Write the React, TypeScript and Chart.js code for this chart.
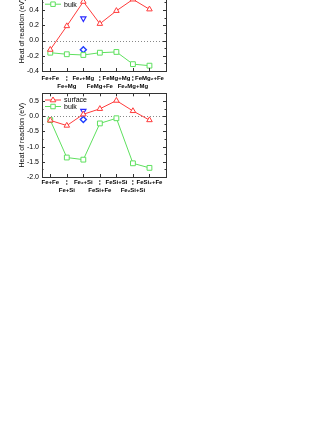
import React, { useEffect, useRef } from 'react';
import { Chart, registerables } from 'chart.js';

Chart.register(...registerables);

const positions = [1, 2, 3, 4, 5, 6, 7];

const topCategories = ['Fe+Fe', 'Fe+Mg', 'Fe₂+Mg', 'FeMg+Fe', 'FeMg+Mg', 'Fe₂Mg+Mg', 'FeMg₂+Fe'];
const topSurface = [-0.12, 0.19, 0.51, 0.22, 0.39, 0.54, 0.41];
const topBulk = [-0.16, -0.18, -0.19, -0.16, -0.15, -0.31, -0.33];
const topBlueTriangle = [0.29];
const topBlueDiamond = [-0.12];
const topYTicks = [-0.4, -0.2, 0, 0.2, 0.4, 0.6];

const botCategories = ['Fe+Fe', 'Fe+Si', 'Fe₂+Si', 'FeSi+Fe', 'FeSi+Si', 'Fe₂Si+Si', 'FeSi₂+Fe'];
const botSurface = [-0.14, -0.31, 0.06, 0.24, 0.51, 0.17, -0.13];
const botBulk = [-0.13, -1.36, -1.43, -0.24, -0.07, -1.55, -1.70];
const botBlueTriangle = [0.17];
const botBlueDiamond = [-0.11];
const botYTicks = [-2.0, -1.5, -1.0, -0.5, 0, 0.5];

const blueAt = 3;
const FONT = 'Liberation Sans, Arial, sans-serif';
const RED = '#ff3b3b';
const GREEN = '#5ee05e';
const BLUE = '#2a2aff';

function drawMarker(ctx: CanvasRenderingContext2D, style: string, x: number, y: number, r: number) {
  ctx.beginPath();
  if (style === 'triangle') {
    ctx.moveTo(x, y - r);
    ctx.lineTo(x + r * 0.95, y + r * 0.6);
    ctx.lineTo(x - r * 0.95, y + r * 0.6);
    ctx.closePath();
  } else {
    const s = r * 0.75;
    ctx.rect(x - s, y - s, 2 * s, 2 * s);
  }
  ctx.fillStyle = '#fff';
  ctx.fill();
  ctx.stroke();
}

const legendPlugin = {
  id: 'insideLegend',
  afterDatasetsDraw(chart: any) {
    const { ctx, chartArea } = chart;
    let row = 0;
    ctx.save();
    chart.data.datasets.forEach((ds: any) => {
      if (!ds.label) return;
      const y = chartArea.top + 6.7 + row * 6.5;
      const x0 = chartArea.left + 3;
      ctx.strokeStyle = ds.borderColor;
      ctx.lineWidth = 1;
      ctx.beginPath();
      ctx.moveTo(x0, y);
      ctx.lineTo(x0 + 16, y);
      ctx.stroke();
      drawMarker(ctx, ds.pointStyle, x0 + 8, y, 3);
      ctx.fillStyle = '#000';
      ctx.font = `7px ${FONT}`;
      ctx.textBaseline = 'middle';
      ctx.textAlign = 'left';
      ctx.fillText(ds.label, x0 + 19, y + 0.5);
      row++;
    });
    ctx.restore();
  },
};

const framePlugin = {
  id: 'frame',
  beforeDatasetsDraw(chart: any) {
    const { ctx, chartArea, scales } = chart;
    const y0 = scales.y.getPixelForValue(0);
    ctx.save();
    ctx.strokeStyle = '#888';
    ctx.lineWidth = 1;
    ctx.setLineDash([1, 2]);
    ctx.beginPath();
    ctx.moveTo(chartArea.left, Math.round(y0) + 0.5);
    ctx.lineTo(chartArea.right, Math.round(y0) + 0.5);
    ctx.stroke();
    ctx.restore();
  },
  afterDraw(chart: any) {
    const { ctx, chartArea, scales } = chart;
    const { left, right, top, bottom } = chartArea;
    ctx.save();
    ctx.strokeStyle = '#333';
    ctx.lineWidth = 1;
    ctx.strokeRect(Math.round(left) + 0.5, Math.round(top) + 0.5, Math.round(right - left), Math.round(bottom - top));
    ctx.beginPath();
    const yt = scales.y.ticks.map((t: any) => t.value);
    const step = yt[1] - yt[0];
    yt.forEach((v: number, i: number) => {
      const py = Math.round(scales.y.getPixelForValue(v)) + 0.5;
      ctx.moveTo(left, py); ctx.lineTo(left + 3, py);
      ctx.moveTo(right, py); ctx.lineTo(right - 3, py);
      if (i < yt.length - 1) {
        const pm = Math.round(scales.y.getPixelForValue(v + step / 2)) + 0.5;
        if (pm > top) {
          ctx.moveTo(left, pm); ctx.lineTo(left + 1.5, pm);
          ctx.moveTo(right, pm); ctx.lineTo(right - 1.5, pm);
        }
      }
    });
    scales.x.ticks.forEach((t: any) => {
      const px = Math.round(scales.x.getPixelForValue(t.value)) + 0.5;
      ctx.moveTo(px, bottom); ctx.lineTo(px, bottom - 3);
      ctx.moveTo(px, top); ctx.lineTo(px, top + 3);
    });
    ctx.stroke();
    ctx.restore();
  },
};

function pts(vals: number[], xs: number[]) {
  return vals.map((v, i) => ({ x: xs[i], y: v }));
}

function makeConfig(cats: string[], surface: number[], bulk: number[], blueTri: number[], blueDia: number[], yTicks: number[], yMin: number, yMax: number, padTop: number, xPad: number): any {
  return {
    type: 'line',
    data: {
      datasets: [
        {
          label: 'surface', data: pts(surface, positions), borderColor: RED, backgroundColor: '#fff',
          pointStyle: 'triangle', pointRadius: 3.2, pointBorderWidth: 1, borderWidth: 1,
          pointBorderColor: RED, pointBackgroundColor: '#fff',
        },
        {
          label: 'bulk', data: pts(bulk, positions), borderColor: GREEN, backgroundColor: '#fff',
          pointStyle: 'rect', pointRadius: 3.4, pointBorderWidth: 1, borderWidth: 1,
          pointBorderColor: GREEN, pointBackgroundColor: '#fff',
        },
        {
          label: '', data: pts(blueTri, [blueAt]), borderColor: BLUE, showLine: false,
          pointStyle: 'triangle', pointRotation: 180, pointRadius: 3, pointBorderWidth: 1.2,
          pointBorderColor: BLUE, pointBackgroundColor: '#fff',
        },
        {
          label: '', data: pts(blueDia, [blueAt]), borderColor: BLUE, showLine: false,
          pointStyle: 'rectRot', pointRadius: 3, pointBorderWidth: 1.4,
          pointBorderColor: '#1f3dff', pointBackgroundColor: '#fff',
        },
      ],
    },
    options: {
      responsive: false,
      animation: false,
      devicePixelRatio: 1,
      layout: { padding: { left: 18, right: 9, top: padTop, bottom: 0 } },
      plugins: { legend: { display: false }, tooltip: { enabled: false } },
      scales: {
        x: {
          type: 'linear', min: 0.5, max: 8,
          afterBuildTicks: (s: any) => { s.ticks = positions.map((v) => ({ value: v })); },
          afterFit: (s: any) => { s.height = 25; },
          grid: { display: false, drawTicks: false },
          border: { display: false },
          ticks: {
            autoSkip: false, maxRotation: 0, minRotation: 0, padding: xPad, color: '#000',
            font: { size: 6, family: FONT, weight: 'bold', lineHeight: 1.4 },
            callback: (v: number, i: number) => {
              const lbl = cats[i] ?? '';
              return i % 2 === 1 ? ['¦', lbl] : lbl;
            },
          },
        },
        y: {
          min: yMin, max: yMax,
          afterBuildTicks: (s: any) => { s.ticks = yTicks.map((v) => ({ value: v })); },
          afterFit: (s: any) => { s.width = 24; },
          grid: { display: false, drawTicks: false },
          border: { display: false },
          ticks: {
            padding: 3, color: '#000', font: { size: 7, family: FONT },
            callback: (v: number) => Number(v).toFixed(1),
          },
          title: { display: true, text: 'Heat of reaction (eV)', color: '#000', padding: 0, font: { size: 7, family: FONT } },
        },
      },
    },
    plugins: [framePlugin, legendPlugin],
  };
}

function ChartCanvas({ config, top, height }: { config: any; top: number; height: number }) {
  const ref = useRef<HTMLCanvasElement>(null);
  useEffect(() => {
    const chart = new Chart(ref.current as HTMLCanvasElement, config);
    return () => chart.destroy();
  }, []);
  return (
    <canvas
      ref={ref}
      width={175}
      height={height}
      style={{ position: 'absolute', left: 0, top, width: 175, height }}
    />
  );
}

export default function App() {
  const topConfig = makeConfig(topCategories, topSurface, topBulk, topBlueTriangle, topBlueDiamond, topYTicks, -0.4, 0.65, 11, 3);
  const botConfig = makeConfig(botCategories, botSurface, botBulk, botBlueTriangle, botBlueDiamond, botYTicks, -2.0, 0.75, 10.3, 1);
  return (
    <div style={{ position: 'absolute', left: 0, top: 0, width: 332, height: 430, background: '#fff', overflow: 'hidden' }}>
      <ChartCanvas config={topConfig} top={-20} height={116} />
      <ChartCanvas config={botConfig} top={83} height={119} />
    </div>
  );
}
